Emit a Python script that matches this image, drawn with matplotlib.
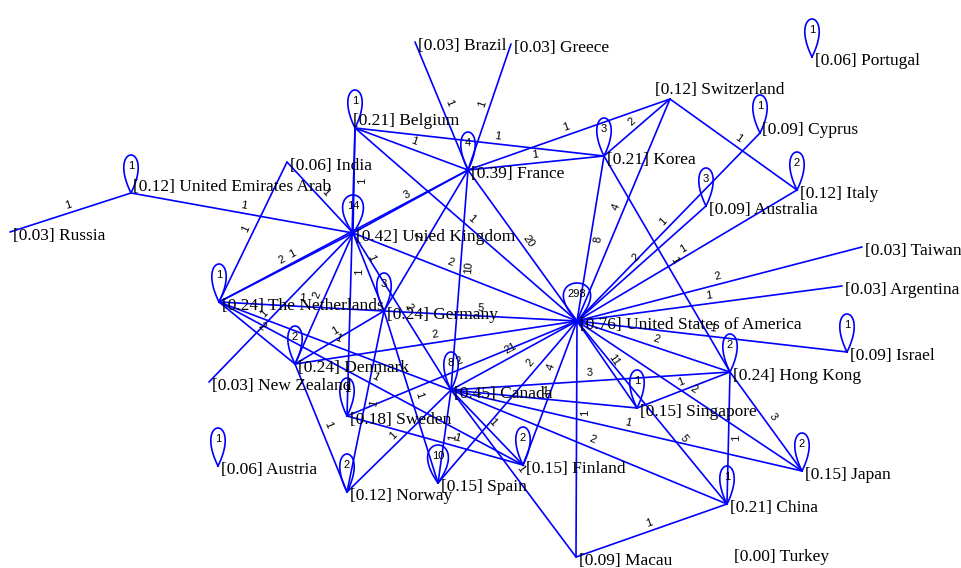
import numpy as np
import matplotlib.pyplot as plt

# node: key, label name, score, layout x, layout y (pixel layout, y down)
keys = ["BR", "GR", "PT", "CH", "BE", "CY", "KR", "FR", "IN", "AE", "IT", "AU",
        "RU", "UK", "TW", "AR", "NL", "DE", "US", "IL", "DK", "HK", "NZ", "CA",
        "SE", "SG", "AT", "FI", "JP", "ES", "NO", "CN", "MO", "TR"]
names = ["Brazil", "Greece", "Portugal", "Switzerland", "Belgium", "Cyprus", "Korea",
         "France", "India", "United Emirates Arab", "Italy", "Australia", "Russia",
         "Unied Kingdom", "Taiwan", "Argentina", "The Netherlands", "Germany",
         "United States of America", "Israel", "Denmark", "Hong Kong", "New Zealand",
         "Canada", "Sweden", "Singapore", "Austria", "Finland", "Japan", "Spain",
         "Norway", "China", "Macau", "Turkey"]
scores = [0.03, 0.03, 0.06, 0.12, 0.21, 0.09, 0.21, 0.39, 0.06, 0.12, 0.12, 0.09,
          0.03, 0.42, 0.03, 0.03, 0.24, 0.24, 0.76, 0.09, 0.24, 0.24, 0.03, 0.45,
          0.18, 0.15, 0.06, 0.15, 0.15, 0.15, 0.12, 0.21, 0.09, 0.00]
pos_x = [415, 511, 812, 670, 355, 760, 604, 468, 287, 131, 797, 706,
         10, 353, 862, 842, 219, 384, 577, 847, 295, 730, 209, 451,
         347, 637, 218, 523, 802, 438, 347, 727, 576, 731]
pos_y = [42, 44, 57, 99, 128, 133, 156, 170, 162, 193, 190, 206,
         232, 233, 247, 286, 302, 311, 321, 352, 364, 372, 382, 390,
         416, 408, 466, 465, 471, 483, 492, 504, 557, 553]

# self collaborations
self_loops = {"PT": 1, "BE": 1, "CY": 1, "KR": 3, "FR": 4, "AE": 1, "IT": 2, "AU": 3,
              "UK": 14, "NL": 1, "DE": 3, "US": 298, "IL": 1, "DK": 2, "HK": 2,
              "CA": 8, "SE": 1, "SG": 1, "AT": 1, "FI": 2, "JP": 2, "ES": 10,
              "NO": 2, "CN": 1}

# edges: (a, b, weight)
edges = [
    ("RU", "AE", 1), ("AE", "UK", 1), ("IN", "UK", 1), ("IN", "NL", 1),
    ("NL", "UK", 2), ("NL", "FR", 1), ("BE", "UK", 1), ("BE", "FR", 1),
    ("BE", "KR", 1), ("BE", "US", 1), ("BE", "SE", 1), ("BR", "FR", 1),
    ("GR", "FR", 1), ("FR", "KR", 1), ("FR", "CH", 1), ("FR", "UK", 3),
    ("FR", "DE", 1), ("FR", "CA", 10), ("FR", "US", 20), ("KR", "CH", 2),
    ("KR", "US", 8), ("KR", "HK", 1), ("CH", "US", 4), ("CH", "IT", 1),
    ("CY", "US", 1), ("AU", "US", 2), ("IT", "US", 1), ("TW", "US", 2),
    ("AR", "US", 1), ("IL", "US", 1), ("HK", "US", 2), ("UK", "US", 2),
    ("UK", "DE", 1), ("UK", "DK", 2), ("NZ", "UK", 1), ("UK", "CA", 2),
    ("NL", "DE", 1), ("NL", "DK", 2), ("NL", "CA", 1), ("NL", "FI", 1),
    ("DK", "DE", 1), ("DK", "US", 2), ("DK", "NO", 1), ("DE", "US", 5),
    ("DE", "ES", 1), ("DE", "NO", 1), ("CA", "US", 21), ("CA", "HK", 3),
    ("CA", "SG", 1), ("CA", "JP", 1), ("CA", "CN", 2), ("CA", "FI", 1),
    ("CA", "ES", 1), ("CA", "MO", 1), ("NO", "CA", 1), ("SE", "FI", 1),
    ("SE", "US", 2), ("US", "ES", 2), ("US", "FI", 4), ("US", "SG", 11),
    ("US", "MO", 1), ("US", "CN", 5), ("US", "JP", 2), ("SG", "HK", 1),
    ("HK", "CN", 1), ("HK", "JP", 3), ("CN", "MO", 1),
]

# where along an edge its count sits (default: middle)
label_t = {("NL", "FR"): 0.31, ("US", "MO"): 0.39, ("UK", "US"): 0.42,
           ("FR", "CA"): 0.44, ("US", "ES"): 0.29, ("US", "FI"): 0.34,
           ("NZ", "UK"): 0.42, ("BE", "KR"): 0.57, ("SE", "FI"): 0.61,
           ("US", "CN"): 0.67, ("UK", "DE"): 0.35}
# node name offsets that differ from the usual one
name_off = {"CH": (-15, -9), "BE": (-2, -7), "AE": (2, -6), "CY": (2, -3)}

pos = {k: (x, y) for k, x, y in zip(keys, pos_x, pos_y)}
BLUE = "#0000ff"

fig = plt.figure(figsize=(9.62, 5.68), dpi=100)
ax = fig.add_axes([0, 0, 1, 1])
ax.set_xlim(0, 962)
ax.set_ylim(568, 0)
ax.axis("off")

for a, b, w in edges:
    (x1, y1), (x2, y2) = pos[a], pos[b]
    ax.plot([x1, x2], [y1, y2], color=BLUE, lw=1.2, solid_capstyle="round", zorder=1)
    t = label_t.get((a, b), 0.5)
    mx, my = x1 + t * (x2 - x1), y1 + t * (y2 - y1)
    L = np.hypot(x2 - x1, y2 - y1)
    dx, dy = (x2 - x1) / L, (y2 - y1) / L
    nx, ny = dy, -dx
    if abs(ny) < 0.3:
        if nx < 0:
            nx, ny = -nx, -ny
    elif ny > 0:
        nx, ny = -nx, -ny
    ang = np.degrees(np.arctan2(-(y2 - y1), x2 - x1))
    if ang > 90:
        ang -= 180
    elif ang <= -90:
        ang += 180
    ax.text(mx + 8 * nx, my + 8 * ny, str(w), fontsize=8, family="Liberation Sans",
            rotation=ang, rotation_mode="anchor", ha="center", va="center", zorder=3)

# teardrop self loops
tt = np.linspace(0, 2 * np.pi, 120)
for k, w in self_loops.items():
    cx, cy = pos[k]
    half = 4 + 3.2 * len(str(w))
    H = 38
    lx = cx + half / 0.77 * np.sin(tt) * np.sin(tt / 2)
    ly = cy - H * np.sin(tt / 2) ** 2
    ax.plot(lx, ly, color=BLUE, lw=1.2, zorder=1)
    ax.text(cx, cy - 0.72 * H, str(w), fontsize=8, family="Liberation Sans",
            ha="center", va="center", zorder=3)

for k, nm, s in zip(keys, names, scores):
    ox, oy = name_off.get(k, (3, 4))
    x, y = pos[k]
    ax.text(x + ox, y + oy, f"[{s:.2f}] {nm}", fontsize=12.5, family="Liberation Serif",
            ha="left", va="center", zorder=2)

fig.savefig("out.png", dpi=100)
